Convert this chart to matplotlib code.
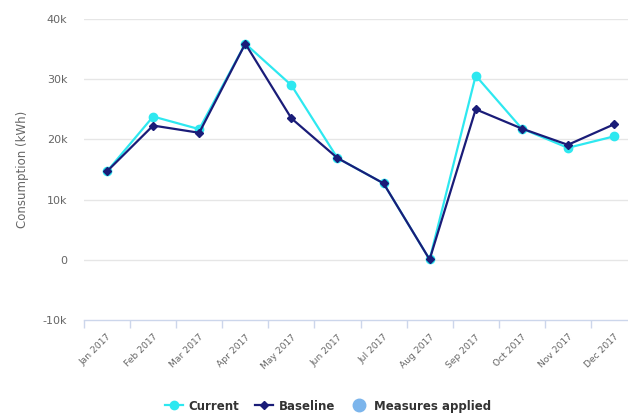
#!/usr/bin/env python3

import matplotlib
matplotlib.use("Agg")
import matplotlib.pyplot as plt
from matplotlib.lines import Line2D
from matplotlib.ticker import FixedLocator, FuncFormatter
import numpy as np

months = ["Jan 2017", "Feb 2017", "Mar 2017", "Apr 2017", "May 2017", "Jun 2017",
          "Jul 2017", "Aug 2017", "Sep 2017", "Oct 2017", "Nov 2017", "Dec 2017"]
current = [14700, 23800, 21700, 35900, 29000, 16900, 12700, 50, 30600, 21800, 18600, 20500]
baseline = [14700, 22300, 21100, 35900, 23500, 16900, 12700, 50, 25000, 21800, 19100, 22500]
y_ticks = [-10000, 0, 10000, 20000, 30000, 40000]

CURRENT_COLOR = "#2ee8f0"
BASELINE_COLOR = "#1a1c78"
MEASURES_COLOR = "#7cb5ec"
LABEL_COLOR = "#666666"
GRID_COLOR = "#e6e6e6"
AXIS_COLOR = "#ccd6eb"

plt.rcParams["font.family"] = ["DejaVu Sans"]

fig = plt.figure(figsize=(6.28, 4.15), dpi=100)
ax = fig.add_axes([84 / 628, 95 / 415, 553 / 628, 301 / 415])

x = np.arange(len(months))
ax.plot(x, current, color=CURRENT_COLOR, lw=1.6, marker="o", ms=6, zorder=3)
ax.plot(x, baseline, color=BASELINE_COLOR, lw=1.6, marker="D", ms=4.5, zorder=4)

ax.set_xlim(-0.5, len(months) - 0.5)
ax.set_ylim(y_ticks[0], y_ticks[-1])

# y axis
ax.set_yticks(y_ticks)
ax.yaxis.set_major_formatter(FuncFormatter(lambda v, p: "0" if v == 0 else f"{int(v / 1000)}k"))
ax.tick_params(axis="y", length=0, pad=12, labelsize=8, labelcolor=LABEL_COLOR)
for t in y_ticks[1:]:
    ax.axhline(t, color=GRID_COLOR, lw=1, zorder=1)
ax.set_ylabel("Consumption (kWh)", color=LABEL_COLOR, fontsize=8.5, labelpad=10)

# x axis
ax.set_xticks(x)
ax.set_xticklabels(months, rotation=45, ha="right", rotation_mode="anchor")
ax.tick_params(axis="x", which="major", length=0, pad=9, labelsize=6.6, labelcolor=LABEL_COLOR)
ax.xaxis.set_minor_locator(FixedLocator(np.arange(len(months) + 1) - 0.5))
ax.tick_params(axis="x", which="minor", length=6, width=1, color=AXIS_COLOR)

for side in ["top", "right", "left"]:
    ax.spines[side].set_visible(False)
ax.spines["bottom"].set_color(AXIS_COLOR)
ax.spines["bottom"].set_linewidth(1)

handles = [
    Line2D([], [], color=CURRENT_COLOR, lw=1.6, marker="o", ms=6),
    Line2D([], [], color=BASELINE_COLOR, lw=1.6, marker="D", ms=4.5),
    Line2D([], [], color=MEASURES_COLOR, lw=0, marker="o", ms=9),
]
leg = fig.legend(handles, ["Current", "Baseline", "Measures applied"],
                 loc="center", bbox_to_anchor=(328 / 628, 9 / 415), ncol=3,
                 frameon=False, handlelength=1.5, columnspacing=1.3, handletextpad=0.5,
                 prop={"weight": "bold", "size": 8.5})
for t in leg.get_texts():
    t.set_color("#333333")

fig.savefig("out.png", dpi=100)
